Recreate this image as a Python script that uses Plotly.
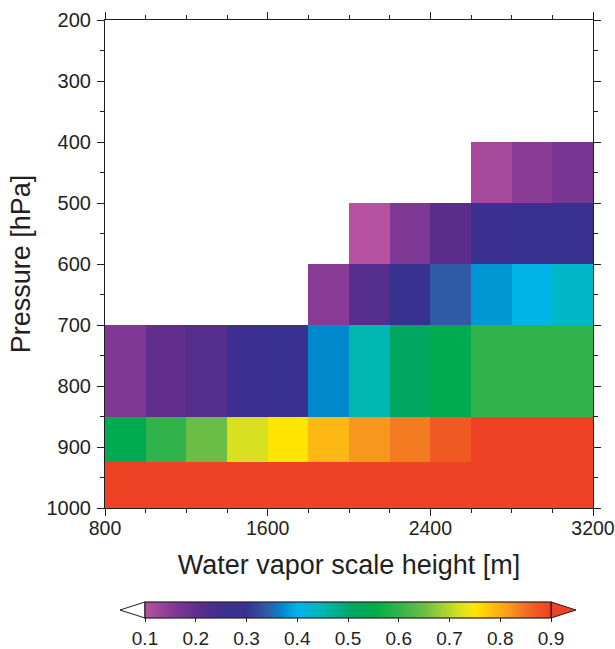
import plotly.graph_objects as go

# ---- data ----
x_edges = [800, 1000, 1200, 1400, 1600, 1800, 2000, 2200, 2400, 2600, 2800, 3000, 3200]
p_edges = [400, 500, 600, 700, 850, 925, 1000]
N = None
row_400_500 = [N, N, N, N, N, N, N, N, N, 0.12, 0.15, 0.17]
row_500_600 = [N, N, N, N, N, N, 0.10, 0.16, 0.21, 0.27, 0.28, 0.28]
row_600_700 = [N, N, N, N, N, 0.15, 0.22, 0.28, 0.34, 0.38, 0.40, 0.43]
row_700_850 = [0.16, 0.20, 0.22, 0.26, 0.28, 0.37, 0.45, 0.51, 0.54, 0.60, 0.60, 0.60]
row_850_925 = [0.54, 0.60, 0.65, 0.72, 0.75, 0.79, 0.82, 0.84, 0.87, 0.90, 0.91, 0.92]
row_925_1000 = [0.95] * 12
z = [row_400_500, row_500_600, row_600_700, row_700_850, row_850_925, row_925_1000]

cbar_ticks = [0.1, 0.2, 0.3, 0.4, 0.5, 0.6, 0.7, 0.8, 0.9]
zmin, zmax = 0.1, 0.9

# colour stops keyed by value
stops = [
    (0.10, "#b6529f"),
    (0.16, "#7f3894"),
    (0.21, "#5a2c8c"),
    (0.26, "#3c2f8f"),
    (0.30, "#363290"),
    (0.34, "#2f5aa6"),
    (0.37, "#0088cc"),
    (0.40, "#00b4ea"),
    (0.45, "#00b7b2"),
    (0.51, "#00a560"),
    (0.55, "#00ac4a"),
    (0.60, "#31b34b"),
    (0.65, "#6bbe45"),
    (0.72, "#d9e021"),
    (0.75, "#ffe600"),
    (0.79, "#fdb813"),
    (0.82, "#f7971d"),
    (0.84, "#f37b22"),
    (0.87, "#ef5a23"),
    (0.90, "#ef4123"),
]
colorscale = [[(v - zmin) / (zmax - zmin), c] for v, c in stops]

FONT = "Liberation Sans, Arial, sans-serif"
TXT = "#231f20"

W, H = 615, 649
L, R, T, B = 105, 22, 20, 141
pw, ph = W - L - R, H - T - B

def px2paper(px, py):
    return (px - L) / pw, (H - B - py) / ph

CB_TOP, CB_BOT = 602, 618

fig = go.Figure()
fig.add_trace(go.Heatmap(
    x=x_edges, y=p_edges, z=z,
    zmin=zmin, zmax=zmax, colorscale=colorscale,
    hoverongaps=False,
    colorbar=dict(
        orientation="h", thickness=CB_BOT - CB_TOP, len=406, lenmode="pixels",
        x=px2paper(348, 0)[0], xanchor="center",
        y=px2paper(0, CB_TOP)[1], yanchor="top",
        xpad=0, ypad=0, outlinewidth=1.2, outlinecolor="#231f20",
        tickvals=cbar_ticks, tickformat=".1f", ticks="outside",
        ticklen=4, tickcolor="#231f20",
        tickfont=dict(family=FONT, size=19, color=TXT),
    ),
))

axis_common = dict(
    showline=True, linecolor="#231f20", linewidth=1.2, mirror="ticks",
    ticks="outside", ticklen=7, tickwidth=1.2, tickcolor="#231f20",
    showgrid=False, zeroline=False, automargin=False,
    ticklabeloverflow="allow",
)

fig.update_xaxes(
    range=[800, 3200], tickvals=[800, 1600, 2400, 3200],
    ticklabelstandoff=-5,
    tickfont=dict(family=FONT, size=19.5, color=TXT),
    minor=dict(dtick=200, tick0=800, ticks="outside", ticklen=4, tickcolor="#231f20", showgrid=False),
    title=dict(text="Water vapor scale height [m]", font=dict(family=FONT, size=27, color=TXT), standoff=17),
    **axis_common,
)
fig.update_yaxes(
    range=[1000, 200], tickvals=[200, 300, 400, 500, 600, 700, 800, 900, 1000],
    ticklabelstandoff=2,
    tickfont=dict(family=FONT, size=20, color=TXT),
    minor=dict(dtick=50, tick0=200, ticks="outside", ticklen=4, tickcolor="#231f20", showgrid=False),
    title=dict(text="Pressure [hPa]", font=dict(family=FONT, size=27, color=TXT), standoff=7),
    **axis_common,
)

# triangle end caps for the colour bar (out-of-range indicators)
def tri_path(x_base, x_tip, y_top, y_bot):
    xb, yt = px2paper(x_base, y_top)
    _, yb = px2paper(x_base, y_bot)
    xt, ym = px2paper(x_tip, (y_top + y_bot) / 2)
    return f"M {xb} {yt} L {xt} {ym} L {xb} {yb} Z"

fig.add_shape(type="path", xref="paper", yref="paper",
              path=tri_path(145, 120, CB_TOP, CB_BOT),
              fillcolor="white", line=dict(color="#231f20", width=1))
fig.add_shape(type="path", xref="paper", yref="paper",
              path=tri_path(551, 576, CB_TOP, CB_BOT),
              fillcolor="#ef4123", line=dict(color="#231f20", width=1))

fig.update_layout(
    width=W, height=H,
    margin=dict(l=L, r=R, t=T, b=B, pad=0, autoexpand=False),
    plot_bgcolor="white", paper_bgcolor="white",
    font=dict(family=FONT, color=TXT),
)

fig.write_html("out.html")
